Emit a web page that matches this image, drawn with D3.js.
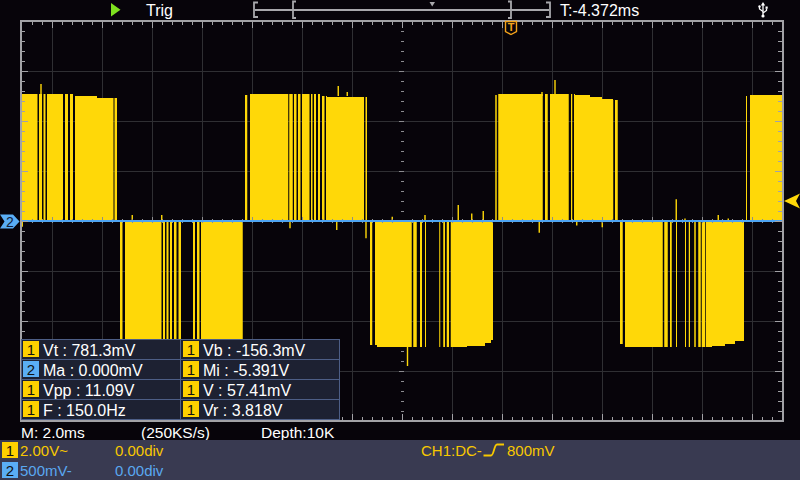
<!DOCTYPE html>
<html><head><meta charset="utf-8">
<script src="https://cdn.jsdelivr.net/npm/d3@7"></script>
<style>
html,body{margin:0;padding:0;background:#07040a;}
svg{display:block;}
text{font-family:"Liberation Sans",Arial,sans-serif;}
</style></head><body>
<svg id="c" width="800" height="480"></svg>
<script>
// ---------- data ----------
const timeDomain = [-15.24, 15.24];       // ms  (2.0 ms / div)
const voltDomain = [-8, 8];               // V   (CH1 2.00 V / div)
const gridTimes = [-14,-12,-10,-8,-6,-4,-2,2,4,6,8,10,12,14];
const gridVolts = [-6,-4,-2,2,4,6];

// CH1 pulse blocks: envelope [t, V] (step) and filled segments [t0, t1]
const envA = [[-15.24,5.08],[-13.1,5.0],[-12.2,4.92],[-11.4,4.92]];
const segA = [[-15.24,-14.58],[-14.52,-14.40],[-14.34,-14.26],[-14.20,-13.56],[-13.48,-13.36],[-13.28,-13.16],[-13.08,-11.54],[-11.50,-11.40]];
const envB = [[-11.28,-4.96],[-11.1,-5.02],[-7.0,-4.96],[-6.37,-4.96]];
const segB = [[-11.28,-11.18],[-11.08,-9.62],[-9.56,-9.48],[-9.42,-9.34],[-9.28,-9.20],[-9.12,-9.02],[-8.94,-8.84],[-8.36,-8.28],[-8.20,-8.10],[-8.04,-6.37]];
const envC = [[-6.28,5.04],[-6.1,5.08],[-3.28,5.0],[-3.0,4.96],[-1.4,4.96]];
const segC = [[-6.28,-6.19],[-6.08,-4.55],[-4.51,-4.37],[-4.32,-4.22],[-4.16,-4.06],[-4.00,-3.70],[-3.64,-3.58],[-3.52,-3.44],[-3.36,-3.28],[-3.20,-3.10],[-3.04,-1.52],[-1.46,-1.40]];
const envD = [[-1.28,-4.96],[-1.0,-5.03],[2.6,-4.98],[3.3,-4.86],[3.55,-4.76],[3.65,-4.76]];
const segD = [[-1.28,-1.19],[-1.08,0.39],[0.45,0.59],[0.72,0.80],[0.92,0.96],[1.49,1.52],[1.65,1.72],[1.79,1.88],[1.95,3.65]];
const envE = [[3.73,5.04],[3.85,5.08],[6.92,5.04],[7.52,4.96],[7.99,4.88],[8.45,4.84],[8.63,4.84]];
const segE = [[3.73,3.79],[3.85,5.63],[5.72,5.83],[5.92,6.67],[6.76,6.81],[6.88,8.45],[8.52,8.63]];
const envF = [[8.72,-4.92],[8.92,-5.03],[12.39,-4.98],[12.92,-4.92],[13.32,-4.8],[13.68,-4.8]];
const segF = [[8.72,8.83],[8.92,10.43],[10.49,10.63],[10.72,10.79],[10.96,10.99],[11.32,11.36],[11.47,11.52],[11.69,11.75],[11.85,11.95],[11.99,12.12],[12.15,13.68]];
const envG = [[13.76,5.0],[13.92,5.04],[15.24,5.04]];
const segG = [[13.76,13.80],[13.92,15.24]];

// glitches: [t, fromV, toV]
const spikes = [[-14.44,5.0,5.48],[-2.55,5.0,5.40],[-2.19,5.0,5.16],[5.60,5.0,5.16],[6.12,5.0,5.64],
  [-10.79,0,0.24],[-9.61,0,0.24],[-0.39,0,0.17],[0.92,0,0.24],[2.25,0,0.64],[2.79,0,0.30],[3.25,0,0.40],
  [10.97,0,0.87],[11.32,0,0.10],[12.65,0,0.24],[13.05,0,0.10],
  [-15.19,0,-0.23],[-4.48,0,-0.29],[-2.61,0,-0.36],[-1.44,0,-0.69],[5.49,0,-0.47],[6.99,0,-0.18],[8.01,0,-0.25],
  [0.22,-5.0,-5.80]];

const ch2 = [[-15.24,0],[15.24,0]];

const measLeft  = [["1","Vt : 781.3mV"],["2","Ma : 0.000mV"],["1","Vpp : 11.09V"],["1","F : 150.0Hz"]];
const measRight = [["1","Vb : -156.3mV"],["1","Mi : -5.391V"],["1","V : 57.41mV"],["1","Vr : 3.818V"]];
const statusTexts = ["M: 2.0ms","(250KS/s)","Depth:10K"];
const ch1Info = ["2.00V~","0.00div"];
const ch2Info = ["500mV-","0.00div"];
const trigInfo = ["CH1:DC-","800mV"];
const trigTime = "T:-4.372ms";
const trigLevel = 0.8; // V

// ---------- drawing ----------
const YEL = "#ffd808", BLU = "#5aaef5", FRAME = "#a2a2a6", GRID = "#2f2f33";
const svg = d3.select("#c");
svg.append("rect").attr("width",800).attr("height",480).attr("fill","#07040a");
const defs = svg.append("defs");

const x = d3.scaleLinear().domain(timeDomain).range([21,783]);
const y = d3.scaleLinear().domain(voltDomain).range([421,21]);
const px = v => Math.round(v) + 0.5;

// grid
const grid = svg.append("g").attr("stroke",GRID).attr("stroke-width",1).attr("shape-rendering","crispEdges");
grid.selectAll("line.v").data(gridTimes).join("line").attr("class","v")
  .attr("x1",d=>px(x(d))).attr("x2",d=>px(x(d))).attr("y1",y(8)).attr("y2",y(-8));
grid.selectAll("line.h").data(gridVolts).join("line").attr("class","h")
  .attr("y1",d=>px(y(d))).attr("y2",d=>px(y(d))).attr("x1",x(timeDomain[0])).attr("x2",x(timeDomain[1]));

// center dashes along vertical axis
const minorV = d3.range(-7.6, 7.7, 0.4).filter(v => Math.abs(v) > 0.01);
const minorT = d3.range(-14.8, 15.0, 0.4).filter(t => Math.abs(t) > 0.01);
const isMajor = (v) => Math.abs(v/2 - Math.round(v/2)) < 0.01;
svg.append("g").attr("stroke","#8c8c90").attr("shape-rendering","crispEdges")
  .selectAll("line").data(minorV).join("line")
  .attr("x1",d=>x(0)-(isMajor(d)?3:1.5)).attr("x2",d=>x(0)+1.5)
  .attr("y1",d=>px(y(d))).attr("y2",d=>px(y(d)));

// CH1 waveform
const area = d3.area().x(d=>x(d[0])).y0(y(0)).y1(d=>y(d[1])).curve(d3.curveStepAfter);
const blocks = [[envA,segA],[envB,segB],[envC,segC],[envD,segD],[envE,segE],[envF,segF],[envG,segG]];
const wave = svg.append("g");
blocks.forEach(([env,seg],i)=>{
  const cp = defs.append("clipPath").attr("id","seg"+i);
  cp.selectAll("rect").data(seg).join("rect")
    .attr("x",d=>x(d[0])).attr("width",d=>Math.max(1,x(d[1])-x(d[0])))
    .attr("y",0).attr("height",480);
  wave.append("path").attr("d",area(env)).attr("fill",YEL)
    .attr("shape-rendering","crispEdges").attr("clip-path",`url(#seg${i})`);
});
wave.selectAll("line.sp").data(spikes).join("line").attr("class","sp")
  .attr("x1",d=>x(d[0])).attr("x2",d=>x(d[0])).attr("y1",d=>y(d[1])).attr("y2",d=>y(d[2]))
  .attr("stroke",YEL).attr("stroke-width",1.4);

// center ticks along horizontal axis
svg.append("g").attr("stroke","#8c8c90").attr("shape-rendering","crispEdges")
  .selectAll("line").data(minorT).join("line")
  .attr("x1",d=>px(x(d))).attr("x2",d=>px(x(d)))
  .attr("y1",d=>y(0)-(isMajor(d)?4:2)).attr("y2",d=>y(0)+2);

// CH2 trace
svg.append("path").attr("d",d3.line().x(d=>x(d[0])).y(d=>Math.round(y(d[1])))(ch2))
  .attr("stroke","#4ea4f2").attr("stroke-width",2).attr("fill","none").attr("shape-rendering","crispEdges");

// frame and its ticks
const fr = svg.append("g").attr("stroke",FRAME).attr("shape-rendering","crispEdges");
fr.append("rect").attr("x",21).attr("y",21).attr("width",762).attr("height",400)
  .attr("fill","none").attr("stroke-width",2);
fr.selectAll("line.tt").data(minorT.concat([0])).join("line").attr("class","tt")
  .attr("x1",d=>px(x(d))).attr("x2",d=>px(x(d))).attr("y1",22).attr("y2",d=>isMajor(d)?28:25);
fr.selectAll("line.tb").data(minorT.concat([0])).join("line").attr("class","tb")
  .attr("x1",d=>px(x(d))).attr("x2",d=>px(x(d))).attr("y1",420).attr("y2",d=>isMajor(d)?414:417);
fr.selectAll("line.tl").data(minorV.concat([0])).join("line").attr("class","tl")
  .attr("y1",d=>px(y(d))).attr("y2",d=>px(y(d))).attr("x1",22).attr("x2",d=>isMajor(d)?28:25);
fr.selectAll("line.tr").data(minorV.concat([0])).join("line").attr("class","tr")
  .attr("y1",d=>px(y(d))).attr("y2",d=>px(y(d))).attr("x1",782).attr("x2",d=>isMajor(d)?775:778);

// top bar
svg.append("polygon").attr("points","111,3 120.5,9.7 111,16.5").attr("fill","#7ee11f");
svg.append("text").attr("x",146).attr("y",16).attr("fill","#fff").attr("font-size",16).text("Trig");
const mb = svg.append("g").attr("stroke","#a8a8ac").attr("fill","none").attr("stroke-width",1.8);
mb.append("line").attr("x1",255).attr("x2",549).attr("y1",10).attr("y2",10);
mb.append("path").attr("d","M258,2.5 H254 V17 H258");
mb.append("path").attr("d","M546,2.5 H550 V17 H546");
mb.append("path").attr("d","M296,1.5 H293 V18 H296");
mb.append("path").attr("d","M508,1.5 H511 V18 H508");
svg.append("polygon").attr("points","429.5,2 435,2 432.2,6.5").attr("fill","#a8a8ac");
svg.append("text").attr("x",560).attr("y",16).attr("fill","#fff").attr("font-size",16).text(trigTime);
// usb icon
const usb = svg.append("g").attr("stroke","#fff").attr("fill","none").attr("stroke-width",1.3);
usb.append("line").attr("x1",763).attr("x2",763).attr("y1",5).attr("y2",16);
usb.append("path").attr("d","M763,11.5 L759.5,9 V7");
usb.append("path").attr("d","M763,13 L766.5,10.5 V8.5");
svg.append("polygon").attr("points","760.8,5.5 765.2,5.5 763,2").attr("fill","#fff");
svg.append("circle").attr("cx",759.5).attr("cy",6.5).attr("r",1.2).attr("fill","#fff");
svg.append("rect").attr("x",765.5).attr("y",6.5).attr("width",2.2).attr("height",2.2).attr("fill","#fff");
svg.append("circle").attr("cx",763).attr("cy",16).attr("r",1.6).attr("fill","#fff");

// trigger position marker
const tx = 511;
svg.append("path").attr("d",`M${tx-5.5},21.5 H${tx+5.5} V31.5 L${tx},34.5 L${tx-5.5},31.5 Z`)
  .attr("fill","#07040a").attr("stroke","#f5a31b").attr("stroke-width",1.4);
svg.append("text").attr("x",tx).attr("y",31).attr("text-anchor","middle").attr("fill","#f5a31b")
  .attr("font-size",11).attr("font-weight","bold").text("T");

// trigger level marker (right)
const ty = y(trigLevel);
svg.append("polygon").attr("points",`784,${ty} 800,${ty-7.5} 796,${ty} 800,${ty+7.5}`).attr("fill",YEL);
// CH2 marker (left)
const cy2 = y(0)+0.5;
svg.append("polygon").attr("points",`0,${cy2-7} 13,${cy2-7} 19.5,${cy2} 13,${cy2+7} 0,${cy2+7} 4.5,${cy2}`).attr("fill",BLU);
svg.append("text").attr("x",10).attr("y",cy2+5).attr("text-anchor","middle").attr("fill","#10203a")
  .attr("font-size",14).text("2");

// measurement box
const mbox = svg.append("g");
mbox.append("rect").attr("x",21.5).attr("y",339.5).attr("width",318).attr("height",80)
  .attr("fill","#1d2132").attr("stroke","#4d5e86").attr("stroke-width",1);
[359.5,379.5,399.5].forEach(yy=>mbox.append("line").attr("x1",21.5).attr("x2",339.5).attr("y1",yy).attr("y2",yy)
  .attr("stroke","#4d5e86"));
mbox.append("line").attr("x1",180.5).attr("x2",180.5).attr("y1",339.5).attr("y2",419.5).attr("stroke","#4d5e86");
function measCol(rows, bx){
  rows.forEach((r,i)=>{
    const top = 341 + i*20;
    mbox.append("rect").attr("x",bx).attr("y",top).attr("width",16).attr("height",16)
      .attr("fill", r[0]==="2" ? BLU : "#ffd000");
    mbox.append("text").attr("x",bx+8).attr("y",top+13.5).attr("text-anchor","middle")
      .attr("fill","#111").attr("font-size",15).text(r[0]);
    mbox.append("text").attr("x",bx+20).attr("y",top+15).attr("fill","#fff")
      .attr("font-size",16).text(r[1]);
  });
}
measCol(measLeft, 23);
measCol(measRight, 183);

// status line
[21,141,261].forEach((xx,i)=>svg.append("text").attr("x",xx).attr("y",437.5)
  .attr("fill","#fff").attr("font-size",15.5).text(statusTexts[i]));

// bottom panel
svg.append("rect").attr("x",0).attr("y",440).attr("width",800).attr("height",40).attr("fill","#393a51");
const TY = "#f8c800", TB = "#5aa8f0";
svg.append("rect").attr("x",2).attr("y",442).attr("width",16).attr("height",16).attr("fill","#ffd000");
svg.append("text").attr("x",10).attr("y",455.5).attr("text-anchor","middle").attr("fill","#111").attr("font-size",15).text("1");
svg.append("rect").attr("x",2).attr("y",462).attr("width",16).attr("height",16).attr("fill",BLU);
svg.append("text").attr("x",10).attr("y",475.5).attr("text-anchor","middle").attr("fill","#111").attr("font-size",15).text("2");
svg.append("text").attr("x",20).attr("y",456).attr("fill",TY).attr("font-size",15).text(ch1Info[0]);
svg.append("text").attr("x",115).attr("y",456).attr("fill",TY).attr("font-size",15).text(ch1Info[1]);
svg.append("text").attr("x",20).attr("y",476).attr("fill",TB).attr("font-size",15).text(ch2Info[0]);
svg.append("text").attr("x",115).attr("y",476).attr("fill",TB).attr("font-size",15).text(ch2Info[1]);
svg.append("text").attr("x",421).attr("y",456).attr("fill",TY).attr("font-size",15).text(trigInfo[0]);
svg.append("path").attr("d","M483.5,455.5 H491 C494,455.5 494,444.5 497,444.5 H504")
  .attr("fill","none").attr("stroke",TY).attr("stroke-width",1.8);
svg.append("text").attr("x",507).attr("y",456).attr("fill",TY).attr("font-size",15).text(trigInfo[1]);
</script>
</body></html>
